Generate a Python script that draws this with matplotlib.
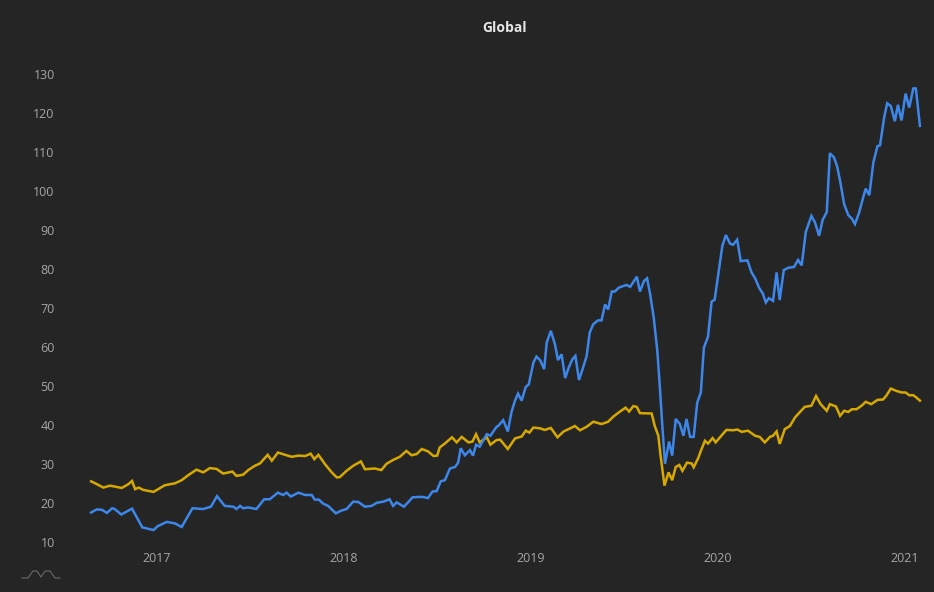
import matplotlib
matplotlib.use("Agg")
import matplotlib.pyplot as plt
from matplotlib.lines import Line2D
import pandas as pd

title = "Global"
year_ticks = ["2017-01-01", "2018-01-01", "2019-01-01", "2020-01-01", "2021-01-01"]
year_labels = ["2017", "2018", "2019", "2020", "2021"]
y_ticks = [10, 20, 30, 40, 50, 60, 70, 80, 90, 100, 110, 120, 130]

blue_dates = [
    "2016-08-25", "2016-09-05", "2016-09-15", "2016-09-25", "2016-10-05", "2016-10-10",
    "2016-10-23", "2016-11-13", "2016-12-03", "2016-12-25", "2017-01-02", "2017-01-20",
    "2017-02-05", "2017-02-18", "2017-03-11", "2017-04-01", "2017-04-16", "2017-04-28",
    "2017-05-13", "2017-05-30", "2017-06-05", "2017-06-12", "2017-06-18", "2017-06-28",
    "2017-07-14", "2017-07-29", "2017-08-09", "2017-08-25", "2017-09-04", "2017-09-11",
    "2017-09-19", "2017-10-04", "2017-10-17", "2017-10-30", "2017-11-05", "2017-11-13",
    "2017-11-21", "2017-12-01", "2017-12-16", "2017-12-27", "2018-01-06", "2018-01-19",
    "2018-01-29", "2018-02-11", "2018-02-24", "2018-03-06", "2018-03-19", "2018-03-31",
    "2018-04-07", "2018-04-14", "2018-04-28", "2018-05-06", "2018-05-15", "2018-05-26",
    "2018-06-04", "2018-06-14", "2018-06-23", "2018-07-01", "2018-07-09", "2018-07-17",
    "2018-07-27", "2018-08-06", "2018-08-12", "2018-08-17", "2018-08-25", "2018-09-04",
    "2018-09-10", "2018-09-16", "2018-09-23", "2018-10-07", "2018-10-14", "2018-10-26",
    "2018-10-29", "2018-11-08", "2018-11-17", "2018-11-24", "2018-12-01", "2018-12-07",
    "2018-12-14", "2018-12-22", "2018-12-28", "2019-01-06", "2019-01-12", "2019-01-19",
    "2019-01-27", "2019-02-01", "2019-02-09", "2019-02-17", "2019-02-23", "2019-03-02",
    "2019-03-09", "2019-03-16", "2019-03-23", "2019-03-29", "2019-04-05", "2019-04-13",
    "2019-04-20", "2019-04-26", "2019-05-03", "2019-05-12", "2019-05-19", "2019-05-26",
    "2019-06-01", "2019-06-08", "2019-06-14", "2019-06-22", "2019-06-30", "2019-07-07",
    "2019-07-14", "2019-07-27", "2019-08-02", "2019-08-10", "2019-08-16", "2019-08-22",
    "2019-08-29", "2019-09-05", "2019-09-10", "2019-09-15", "2019-09-20", "2019-09-28",
    "2019-10-04", "2019-10-11", "2019-10-19", "2019-10-26", "2019-11-01", "2019-11-08",
    "2019-11-15", "2019-11-22", "2019-11-29", "2019-12-05", "2019-12-13", "2019-12-20",
    "2019-12-26", "2020-01-02", "2020-01-10", "2020-01-17", "2020-01-25", "2020-01-31",
    "2020-02-08", "2020-02-15", "2020-02-28", "2020-03-07", "2020-03-14", "2020-03-22",
    "2020-03-29", "2020-04-04", "2020-04-10", "2020-04-18", "2020-04-25", "2020-05-01",
    "2020-05-09", "2020-05-18", "2020-05-29", "2020-06-06", "2020-06-13", "2020-06-21",
    "2020-07-02", "2020-07-09", "2020-07-17", "2020-07-24", "2020-08-01", "2020-08-07",
    "2020-08-15", "2020-08-21", "2020-08-27", "2020-09-04", "2020-09-12", "2020-09-19",
    "2020-09-25", "2020-10-03", "2020-10-11", "2020-10-16", "2020-10-23", "2020-10-31",
    "2020-11-08", "2020-11-13", "2020-11-21", "2020-11-27", "2020-12-04", "2020-12-12",
    "2020-12-18", "2020-12-25", "2021-01-02", "2021-01-09", "2021-01-17", "2021-01-22",
    "2021-01-30",
]
blue_values = [
    17.5, 18.3, 18.2, 17.4, 18.6, 18.4,
    17.0, 18.5, 13.7, 13.0, 14.0, 15.1,
    14.7, 13.8, 18.6, 18.4, 19.0, 21.7,
    19.2, 19.0, 18.4, 19.2, 18.6, 18.8,
    18.4, 20.9, 20.9, 22.6, 22.0, 22.6,
    21.6, 22.6, 22.0, 22.0, 20.8, 20.8,
    19.8, 19.2, 17.3, 18.0, 18.4, 20.3,
    20.2, 19.0, 19.2, 20.0, 20.3, 20.9,
    19.2, 20.1, 19.0, 20.1, 21.4, 21.5,
    21.5, 21.2, 22.9, 23.0, 25.5, 25.8,
    28.8, 29.2, 30.3, 34.0, 32.2, 33.5,
    32.1, 34.9, 34.4, 37.6, 37.2, 39.5,
    39.7, 41.2, 38.3, 43.2, 46.2, 48.0,
    46.2, 49.7, 50.4, 56.0, 57.5, 56.6,
    54.3, 61.1, 64.1, 60.7, 56.6, 58.1,
    52.0, 54.7, 56.8, 57.7, 51.5, 54.7,
    57.7, 63.7, 65.8, 66.8, 66.8, 70.9,
    69.6, 74.2, 74.2, 75.2, 75.6, 75.9,
    75.4, 78.0, 74.2, 76.9, 77.6, 73.5,
    67.5, 59.0, 49.6, 39.3, 30.0, 35.7,
    32.1, 41.5, 40.2, 37.2, 41.5, 36.9,
    36.9, 45.7, 48.3, 59.8, 62.6, 71.6,
    72.1, 78.6, 85.9, 88.7, 86.5, 86.2,
    87.5, 82.0, 82.2, 79.1, 77.6, 75.1,
    73.7, 71.4, 72.5, 71.8, 79.1, 72.0,
    79.7, 80.3, 80.5, 82.3, 80.9, 89.5,
    93.6, 91.9, 88.5, 92.6, 94.6, 109.7,
    108.6, 106.4, 102.6, 96.6, 93.8, 92.9,
    91.5, 94.4, 98.3, 100.6, 98.9, 107.3,
    111.5, 111.7, 118.8, 122.5, 121.8, 117.9,
    122.1, 118.1, 125.0, 121.4, 126.3, 126.3,
    116.7,
]

gold_dates = [
    "2016-08-25", "2016-09-02", "2016-09-18", "2016-10-01", "2016-10-24", "2016-11-06",
    "2016-11-13", "2016-11-19", "2016-11-26", "2016-12-05", "2016-12-25", "2017-01-03",
    "2017-01-16", "2017-02-05", "2017-02-18", "2017-03-03", "2017-03-19", "2017-04-01",
    "2017-04-14", "2017-04-27", "2017-05-10", "2017-05-28", "2017-06-05", "2017-06-18",
    "2017-06-28", "2017-07-11", "2017-07-21", "2017-08-05", "2017-08-13", "2017-08-25",
    "2017-09-08", "2017-09-21", "2017-10-04", "2017-10-17", "2017-10-28", "2017-11-04",
    "2017-11-12", "2017-11-25", "2017-12-08", "2017-12-18", "2017-12-24", "2018-01-06",
    "2018-01-19", "2018-02-03", "2018-02-11", "2018-03-02", "2018-03-15", "2018-03-25",
    "2018-04-07", "2018-04-20", "2018-05-03", "2018-05-13", "2018-05-23", "2018-06-02",
    "2018-06-14", "2018-06-25", "2018-07-02", "2018-07-07", "2018-07-17", "2018-07-31",
    "2018-08-09", "2018-08-19", "2018-09-01", "2018-09-09", "2018-09-16", "2018-09-23",
    "2018-10-07", "2018-10-14", "2018-10-26", "2018-11-02", "2018-11-17", "2018-12-01",
    "2018-12-14", "2018-12-22", "2018-12-29", "2019-01-06", "2019-01-19", "2019-01-28",
    "2019-02-09", "2019-02-22", "2019-03-06", "2019-03-19", "2019-03-28", "2019-04-07",
    "2019-04-20", "2019-05-03", "2019-05-19", "2019-06-01", "2019-06-11", "2019-06-24",
    "2019-07-05", "2019-07-12", "2019-07-20", "2019-07-27", "2019-08-02", "2019-08-25",
    "2019-08-31", "2019-09-07", "2019-09-11", "2019-09-19", "2019-09-27", "2019-10-04",
    "2019-10-11", "2019-10-18", "2019-10-24", "2019-11-02", "2019-11-11", "2019-11-15",
    "2019-11-24", "2019-11-29", "2019-12-07", "2019-12-13", "2019-12-22", "2019-12-28",
    "2020-01-08", "2020-01-18", "2020-01-31", "2020-02-08", "2020-02-17", "2020-02-29",
    "2020-03-14", "2020-03-23", "2020-04-02", "2020-04-12", "2020-04-18", "2020-04-25",
    "2020-05-01", "2020-05-11", "2020-05-21", "2020-05-31", "2020-06-09", "2020-06-19",
    "2020-07-02", "2020-07-11", "2020-07-20", "2020-08-01", "2020-08-07", "2020-08-19",
    "2020-08-27", "2020-09-04", "2020-09-12", "2020-09-19", "2020-09-28", "2020-10-08",
    "2020-10-16", "2020-10-27", "2020-11-08", "2020-11-19", "2020-11-26", "2020-12-04",
    "2020-12-15", "2020-12-25", "2021-01-02", "2021-01-09", "2021-01-17", "2021-01-23",
    "2021-01-30",
]
gold_values = [
    25.5, 25.0, 23.9, 24.4, 23.8, 24.8,
    25.6, 23.5, 23.9, 23.3, 22.8, 23.5,
    24.5, 25.0, 25.8, 27.1, 28.5, 27.8,
    28.9, 28.7, 27.5, 28.0, 26.9, 27.2,
    28.4, 29.5, 30.1, 32.3, 30.8, 32.9,
    32.3, 31.8, 32.1, 32.0, 32.6, 31.2,
    32.3, 29.9, 27.8, 26.5, 26.6, 28.2,
    29.5, 30.6, 28.6, 28.8, 28.4, 30.0,
    31.0, 31.8, 33.3, 32.2, 32.5, 33.8,
    33.2, 32.0, 32.1, 34.2, 35.2, 36.8,
    35.5, 36.9, 35.5, 35.7, 37.6, 35.5,
    36.8, 34.9, 36.1, 36.2, 33.8, 36.5,
    37.0, 38.5, 38.0, 39.3, 39.1, 38.7,
    39.2, 36.8, 38.3, 39.1, 39.7, 38.6,
    39.5, 40.8, 40.2, 40.8, 42.1, 43.4,
    44.4, 43.4, 44.8, 44.6, 43.0, 42.9,
    39.7, 37.2, 32.5, 24.4, 27.8, 25.8,
    29.2, 29.7, 28.2, 30.3, 30.1, 29.1,
    31.5, 33.3, 35.9, 35.2, 36.6, 35.5,
    37.2, 38.7, 38.6, 38.8, 38.2, 38.5,
    37.2, 36.9, 35.5, 36.9, 37.2, 38.3,
    35.1, 38.9, 39.7, 41.9, 43.2, 44.6,
    44.9, 47.4, 45.3, 43.6, 45.3, 44.7,
    42.3, 43.6, 43.3, 44.0, 44.0, 44.9,
    45.9, 45.3, 46.4, 46.5, 47.6, 49.3,
    48.7, 48.3, 48.3, 47.6, 47.6, 47.0,
    46.2,
]

BG = "#252525"
BLUE = "#3D87EB"
GOLD = "#D7A900"
TXT = "#A6A6A6"

plt.rcParams["font.family"] = ["Open Sans", "DejaVu Sans"]

fig = plt.figure(figsize=(9.34, 5.92), dpi=100, facecolor=BG)
ax = fig.add_axes([88 / 934, 44 / 592, 834 / 934, 488 / 592], facecolor=BG)

bd = pd.to_datetime(blue_dates)
gd = pd.to_datetime(gold_dates)
ax.plot(gd, gold_values, color=GOLD, lw=1.8, solid_joinstyle="miter", zorder=3)
ax.plot(bd, blue_values, color=BLUE, lw=1.8, solid_joinstyle="miter", zorder=4)

ax.set_xlim(pd.Timestamp("2016-08-19"), pd.Timestamp("2021-02-03"))
ax.set_ylim(8.4, 133.6)

ax.set_yticks(y_ticks)
ax.set_yticklabels([str(v) for v in y_ticks])
ax.set_xticks(pd.to_datetime(year_ticks))
ax.set_xticklabels(year_labels)

mid_years = pd.to_datetime(["2017-07-01", "2018-07-01", "2019-07-01", "2020-07-01"])
for d in mid_years:
    ax.axvline(d, color="#272727", lw=0.8, zorder=1)
for v in y_ticks:
    ax.axhline(v, color="#272727", lw=0.8, zorder=1)

ax.tick_params(axis="both", length=0, colors=TXT, labelsize=9)
ax.tick_params(axis="y", pad=24)
ax.tick_params(axis="x", pad=3)
for lab in ax.get_yticklabels():
    lab.set_horizontalalignment("right")
for s in ax.spines.values():
    s.set_visible(False)

fig.text(505 / 934, 1 - 28 / 592, title, ha="center", va="center",
         color="#E6E6E6", fontsize=10, fontweight="bold")

# small sparkline icon bottom-left
ix = [22, 28, 33, 37, 41, 45, 50, 55, 60]
iy = [578, 578, 571, 571, 577, 571, 571, 578, 578]
fig.add_artist(Line2D([x / 934 for x in ix], [1 - y / 592 for y in iy],
                      color="#6A6A6A", lw=0.8))

fig.savefig("out.png", dpi=100, facecolor=BG)
